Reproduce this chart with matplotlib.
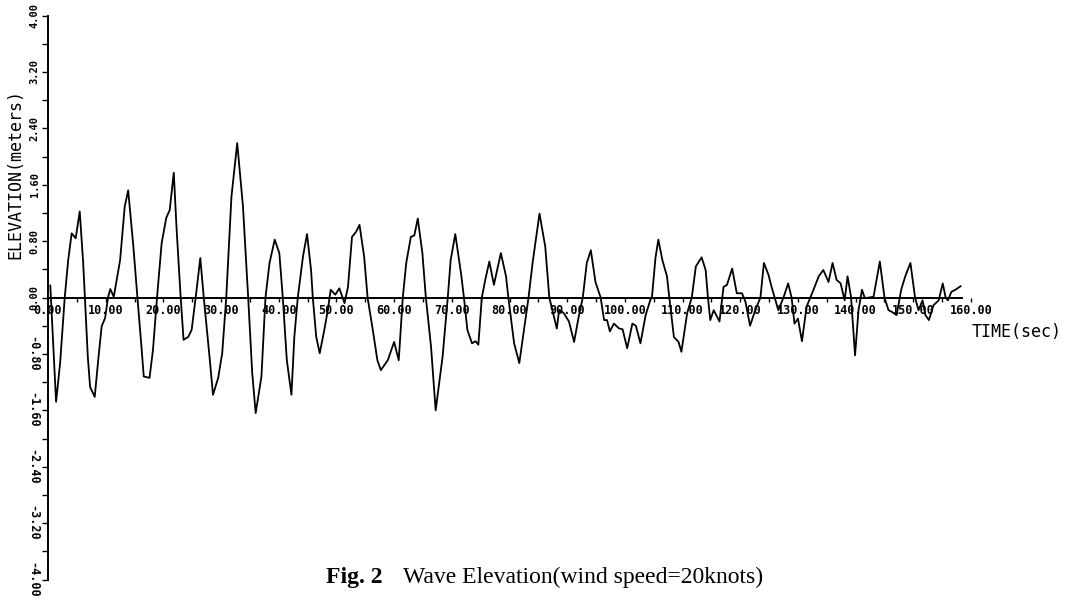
import numpy as np
import matplotlib
matplotlib.use("Agg")
import matplotlib.pyplot as plt
from matplotlib.ticker import MultipleLocator

# wave record (time in s, elevation in m)
time_s = [0.4, 1.4, 2.1, 2.9, 3.5, 4.1, 4.8, 5.5, 6.1, 6.4, 6.9, 7.3, 8.1, 8.7, 9.3, 9.9,
          10.4, 10.8, 11.4, 12.5, 13.3, 13.9, 14.8, 15.5, 16.2, 16.6, 17.6, 18.2, 18.9, 19.7,
          20.5, 21.1, 21.8, 22.3, 23.0, 23.5, 24.3, 24.9, 25.6, 26.4, 27.0, 28.0, 28.6, 29.5,
          30.2, 30.9, 31.8, 32.8, 33.8, 34.7, 35.4, 36.0, 37.0, 37.7, 38.4, 39.3, 40.1, 40.7,
          41.4, 42.2, 42.7, 43.3, 44.2, 44.9, 45.6, 45.9, 46.5, 47.1, 47.9, 48.5, 49.0, 49.8,
          50.5, 51.4, 52.0, 52.7, 53.4, 54.0, 54.8, 55.4, 56.3, 57.1, 57.7, 58.9, 60.0, 60.8,
          61.5, 62.1, 62.9, 63.5, 64.1, 64.9, 65.5, 66.4, 67.2, 68.4, 69.3, 69.8, 70.6, 71.6,
          72.1, 72.7, 73.5, 74.1, 74.6, 75.2, 75.8, 76.5, 77.3, 78.5, 79.4, 79.8, 80.8, 81.7,
          82.5, 83.3, 84.0, 85.2, 86.2, 86.9, 87.7, 88.2, 88.6, 89.4, 90.3, 91.2, 92.0, 92.7,
          93.4, 94.1, 94.9, 95.8, 96.4, 96.9, 97.4, 98.1, 99.0, 99.6, 100.4, 101.3, 101.9,
          102.7, 103.6, 104.4, 104.7, 105.3, 105.8, 106.5, 107.3, 107.7, 108.5, 109.3, 109.8,
          110.8, 111.6, 112.3, 113.3, 114.0, 114.4, 114.8, 115.4, 116.4, 117.1, 117.7, 118.6,
          119.4, 120.3, 120.9, 121.7, 122.6, 123.5, 124.1, 124.9, 125.4, 126.1, 126.6, 127.5,
          128.3, 128.9, 129.4, 130.0, 130.7, 131.5, 132.7, 133.6, 134.4, 135.3, 136.0, 136.7,
          137.4, 138.1, 138.6, 139.2, 139.9, 140.5, 141.1, 141.6, 143.1, 144.2, 145.0, 145.7,
          146.2, 147.1, 147.9, 148.6, 149.5, 150.3, 150.9, 151.6, 152.1, 152.7, 153.5, 154.4,
          155.1, 155.6, 156.0, 156.6, 157.3, 158.2]
elev_m = [0.17, -1.48, -0.93, 0.0, 0.53, 0.91, 0.84, 1.22, 0.49, 0.0, -0.84, -1.27, -1.41, -0.89, -0.41, -0.29,
          0.0, 0.12, 0.01, 0.53, 1.29, 1.52, 0.72, 0.0, -0.70, -1.12, -1.14, -0.74, 0.0, 0.77,
          1.13, 1.24, 1.77, 0.96, 0.0, -0.60, -0.56, -0.46, 0.0, 0.56, 0.0, -0.84, -1.38, -1.14,
          -0.79, 0.0, 1.43, 2.19, 1.29, 0.0, -1.07, -1.64, -1.12, 0.0, 0.49, 0.82, 0.63, 0.0,
          -0.89, -1.38, -0.56, 0.0, 0.58, 0.90, 0.39, 0.0, -0.56, -0.79, -0.46, -0.18, 0.11, 0.04,
          0.13, -0.08, 0.15, 0.86, 0.93, 1.03, 0.58, 0.0, -0.46, -0.89, -1.03, -0.89, -0.63, -0.89,
          0.0, 0.49, 0.86, 0.88, 1.12, 0.63, 0.0, -0.70, -1.60, -0.84, 0.0, 0.53, 0.90, 0.34,
          0.0, -0.46, -0.65, -0.62, -0.67, 0.0, 0.25, 0.51, 0.18, 0.63, 0.30, 0.0, -0.65, -0.93,
          -0.46, 0.0, 0.49, 1.19, 0.72, 0.0, -0.27, -0.44, -0.18, -0.22, -0.34, -0.63, -0.27, 0.0,
          0.49, 0.67, 0.22, 0.0, -0.32, -0.32, -0.48, -0.37, -0.44, -0.45, -0.72, -0.37, -0.40,
          -0.65, -0.25, -0.04, 0.01, 0.56, 0.82, 0.53, 0.30, 0.0, -0.56, -0.63, -0.77,
          -0.22, 0.0, 0.44, 0.57, 0.39, 0.0, -0.32, -0.18, -0.34, 0.15, 0.18, 0.41,
          0.06, 0.06, -0.06, -0.40, -0.18, 0.0, 0.49, 0.32, 0.16, -0.04, -0.18, 0.0,
          0.20, 0.0, -0.37, -0.30, -0.62, -0.13, 0.11, 0.30, 0.39, 0.22, 0.49, 0.25,
          0.20, -0.04, 0.30, 0.01, -0.82, -0.18, 0.11, -0.01, 0.01, 0.51, 0.0, -0.18,
          -0.20, -0.25, 0.11, 0.30, 0.49, 0.0, -0.18, -0.04, -0.25, -0.32, -0.11, -0.04,
          0.20, 0.0, -0.04, 0.08, 0.11, 0.16]

x_ticks = [0, 10, 20, 30, 40, 50, 60, 70, 80, 90, 100, 110, 120, 130, 140, 150, 160]
x_labels = ["0.00", "10.00", "20.00", "30.00", "40.00", "50.00", "60.00", "70.00", "80.00",
            "90.00", "100.00", "110.00", "120.00", "130.00", "140.00", "150.00", "160.00"]
y_ticks = [-4.0, -3.2, -2.4, -1.6, -0.8, 0.0, 0.8, 1.6, 2.4, 3.2, 4.0]
y_labels = ["-4.00", "-3.20", "-2.40", "-1.60", "-0.80", "0.00", "0.80", "1.60", "2.40", "3.20", "4.00"]

W, H = 1074, 601
fig = plt.figure(figsize=(W / 100, H / 100), dpi=100)
# axes placed so that x 0..160 -> px 48..971, y -4..4 -> px 579.5..15.5
ax = fig.add_axes([48 / W, 1 - 579.5 / H, 923 / W, 564 / H])

ax.plot(time_s, elev_m, color="black", lw=1.3, zorder=3)

ax.set_xlim(0, 160)
ax.set_ylim(-4, 4)
for s in ["top", "right"]:
    ax.spines[s].set_visible(False)
ax.spines["bottom"].set_position(("data", 0))
ax.spines["bottom"].set_bounds(0, 158.5)
ax.spines["bottom"].set_linewidth(1.4)
ax.spines["left"].set_linewidth(1.4)

mono = "DejaVu Sans Mono"
ax.set_xticks(x_ticks)
ax.set_xticklabels(x_labels, family=mono, fontsize=8.5, fontweight="bold")
ax.xaxis.set_minor_locator(MultipleLocator(5))
ax.tick_params(axis="x", which="both", direction="out", length=3, width=1, pad=2)

ax.set_yticks(y_ticks)
ax.set_yticklabels(y_labels, family=mono, fontweight="bold")
ax.yaxis.set_minor_locator(MultipleLocator(0.4))
ax.tick_params(axis="y", which="both", direction="out", length=4, width=1, pad=2)
for lab, v in zip(ax.get_yticklabels(), y_ticks):
    if v >= 0:
        lab.set_rotation(90)
        lab.set_fontsize(7.5)
    else:
        lab.set_rotation(-90)
        lab.set_fontsize(8.5)
    lab.set_va("center")

fig.text(15 / W, 1 - 174 / H, "ELEVATION(meters)", rotation=90, family=mono,
         fontsize=12, ha="center", va="center")
fig.text(972 / W, 1 - 332 / H, "TIME(sec)", family=mono, fontsize=12,
         ha="left", va="center")

# caption: body ends near x=763, "Fig. 2" set just left of it
cap = fig.text(763 / W, 1 - 577 / H, "Wave Elevation(wind speed=20knots)",
               family="Liberation Serif", fontsize=17, ha="right", va="center")
fig.canvas.draw()
bb = cap.get_window_extent()
fig.text((bb.x0 - 20) / W, 1 - 577 / H, "Fig. 2", family="Liberation Serif", fontsize=17,
         fontweight="bold", ha="right", va="center")

fig.savefig("out.png", dpi=100, facecolor="white")
